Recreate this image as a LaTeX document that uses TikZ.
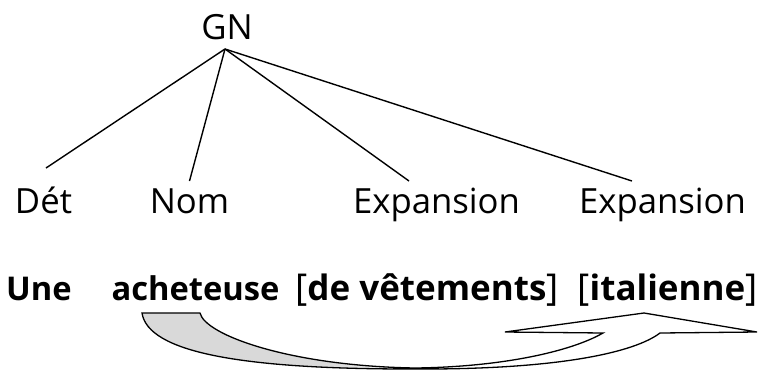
\documentclass[tikz,border=0pt]{standalone}
\usepackage{fontspec}
\setmainfont{Open Sans}
\usepackage{tikz}
\pgfdeclarehorizontalshading{tailfade}{100bp}{color(0bp)=(gray!30); color(40bp)=(gray!30); color(48bp)=(white); color(100bp)=(white)}

\begin{document}
\begin{tikzpicture}[x=1pt,y=-1pt,
    cat/.style={inner sep=0pt,anchor=base,font=\fontsize{34.7}{40}\selectfont},
    word/.style={inner sep=0pt,anchor=base,font=\fontsize{32.7}{40}\selectfont\bfseries},
    group/.style={word,font=\fontsize{35}{40}\selectfont\bfseries},
    branch/.style={line width=1.4pt}]
  \useasboundingbox (0,0) rectangle (760,370);
  % tree
  \node[cat] (gn) at (227,39) {GN};
  \node[cat] (det) at (43.5,213) {Dét};
  \node[cat] (nom) at (189.5,213) {Nom};
  \node[cat] (exp1) at (436.5,213) {Expansion};
  \node[cat] (exp2) at (662.5,213) {Expansion};
  \draw[branch] ([xshift=-2pt,yshift=-10pt]gn.base) -- ([xshift=2.5pt,yshift=45pt]det.base);
  \draw[branch] ([xshift=-2pt,yshift=-10pt]gn.base) -- ([yshift=32pt]nom.base);
  \draw[branch] ([xshift=-2pt,yshift=-10pt]gn.base) -- ([xshift=-27.5pt,yshift=32pt]exp1.base);
  \draw[branch] ([xshift=-2pt,yshift=-10pt]gn.base) -- ([xshift=-30.5pt,yshift=32pt]exp2.base);
  % phrase
  \node[word] (une) at (39,300) {Une};
  \node[word] (ach) at (195.5,300) {acheteuse};
  \node[group] (dv) at (427,300) {{\fontsize{37}{40}\selectfont\mdseries[}de vêtements{\fontsize{37}{40}\selectfont\mdseries]}};
  \node[group] (ita) at (667.5,300) {{\fontsize{37}{40}\selectfont\mdseries[}italienne{\fontsize{37}{40}\selectfont\mdseries]}};
  % curved arrow
  \shadedraw[shading=tailfade,line width=1.3pt,line join=miter]
    (142,313) .. controls (148,352) and (240,369) .. (410,369)
    .. controls (560,370) and (635,352) .. (660,333)
    -- (757,332) -- (644,313) -- (505,332) -- (603,333)
    .. controls (570,352) and (500,367) .. (415,368)
    .. controls (290,366) and (205,335) .. (200,313) -- cycle;
\end{tikzpicture}
\end{document}
